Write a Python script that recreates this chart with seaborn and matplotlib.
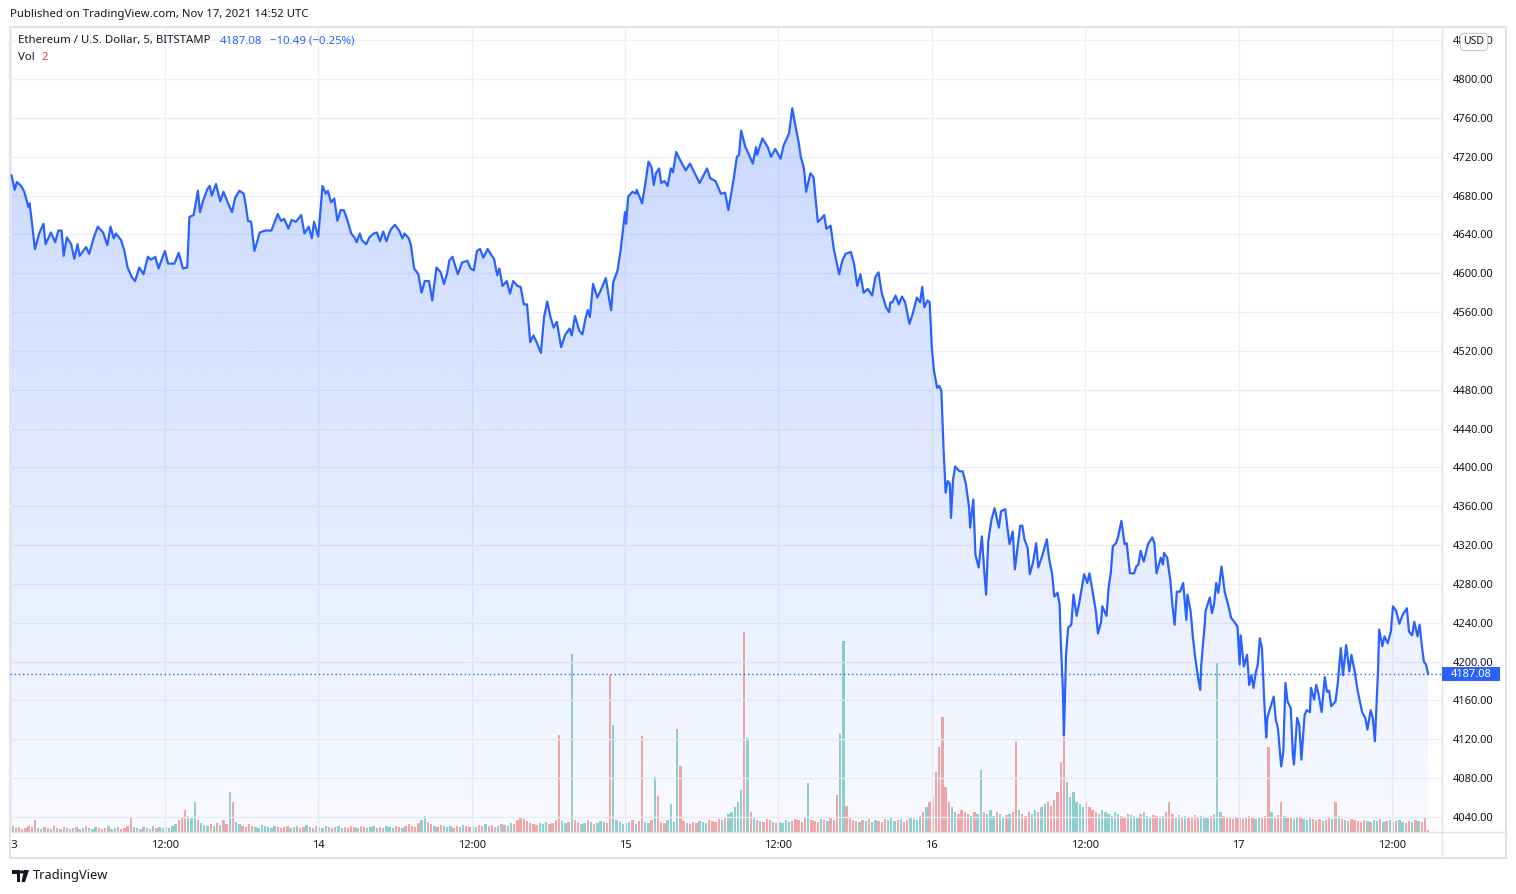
import numpy as np
import matplotlib
matplotlib.use("Agg")
import matplotlib.pyplot as plt
import seaborn as sns
from matplotlib.patches import Rectangle, Polygon, Circle
from matplotlib.lines import Line2D
from matplotlib.transforms import Bbox, TransformedBbox, blended_transform_factory

# ETH/USD, BITSTAMP, 5-minute bars counted from 2021-11-13 00:00 UTC
bar_idx = [
    0, 3, 5, 9, 12, 16, 17, 19, 22, 26, 30, 32, 37, 41, 44, 47, 49, 52, 56, 59,
    62, 64, 70, 73, 77, 81, 86, 90, 93, 96, 98, 103, 106, 109, 113, 116, 120, 124, 128, 131,
    135, 138, 144, 147, 153, 157, 161, 165, 167, 171, 175, 177, 180, 184, 186, 188, 192, 196, 199, 203,
    207, 210, 214, 218, 220, 222, 225, 228, 231, 233, 238, 244, 250, 253, 256, 260, 263, 267, 272, 275,
    279, 282, 284, 288, 292, 295, 297, 300, 303, 306, 309, 312, 315, 319, 322, 324, 327, 329, 333, 336,
    340, 343, 346, 349, 352, 356, 360, 364, 367, 369, 373, 375, 378, 382, 385, 388, 392, 395, 399, 403,
    406, 409, 411, 414, 419, 423, 428, 431, 434, 437, 440, 443, 447, 451, 453, 456, 458, 461, 465, 468,
    471, 475, 478, 481, 484, 487, 490, 493, 497, 500, 503, 506, 509, 512, 516, 520, 524, 526, 529, 533,
    536, 539, 541, 543, 546, 550, 553, 558, 561, 563, 565, 569, 572, 576, 577, 579, 583, 586, 587, 592,
    595, 598, 601, 603, 605, 608, 610, 613, 616, 619, 621, 624, 628, 633, 637, 641, 646, 653, 656, 661,
    666, 670, 673, 678, 681, 683, 685, 689, 692, 696, 699, 700, 705, 710, 713, 717, 722, 725, 730, 733,
    736, 739, 741, 744, 746, 750, 753, 757, 760, 763, 765, 769, 772, 777, 780, 783, 788, 791, 794, 797,
    800, 804, 808, 811, 814, 817, 821, 824, 825, 827, 830, 833, 836, 839, 843, 846, 850, 853, 855, 857,
    860, 862, 864, 866, 869, 871, 873, 875, 877, 879, 881, 882, 884, 886, 890, 893, 896, 899, 900, 903,
    905, 908, 911, 913, 915, 917, 920, 923, 925, 927, 929, 933, 935, 937, 940, 942, 945, 947, 949, 951,
    954, 956, 959, 962, 964, 968, 972, 974, 977, 979, 982, 984, 985, 987, 988, 989, 990, 992, 995, 997,
    1000, 1003, 1007, 1010, 1012, 1015, 1018, 1020, 1023, 1024, 1028, 1030, 1032, 1034, 1037, 1039, 1042, 1045, 1047, 1050,
    1054, 1056, 1058, 1060, 1063, 1067, 1071, 1073, 1075, 1079, 1081, 1082, 1085, 1088, 1090, 1092, 1094, 1097, 1100, 1103,
    1104, 1107, 1109, 1111, 1114, 1116, 1117, 1120, 1121, 1125, 1127, 1129, 1131, 1133, 1136, 1139, 1143, 1145, 1148, 1151,
    1153, 1154, 1157, 1160, 1162, 1164, 1166, 1168, 1170, 1172, 1174, 1176, 1178, 1179, 1183, 1185, 1187, 1189, 1192, 1194,
    1196, 1198, 1201, 1203, 1204, 1207, 1209, 1211, 1214, 1216, 1219, 1220, 1223, 1225, 1227, 1230, 1233, 1235, 1237, 1239,
    1243, 1245, 1248, 1250, 1253, 1256, 1258, 1261, 1264, 1268, 1271, 1273, 1276, 1278, 1280, 1283, 1284, 1287, 1289, 1292,
    1295, 1297, 1300, 1303, 1306, 1310, 1312, 1315, 1317, 1320, 1322, 1324, 1326, 1328, 1330,
]
close = [
    4701, 4686, 4694, 4690, 4684, 4668, 4672, 4654, 4625, 4641, 4651, 4630, 4642, 4632, 4644, 4644, 4618, 4637, 4630, 4615,
    4630, 4618, 4627, 4620, 4636, 4648, 4642, 4629, 4648, 4636, 4641, 4634, 4623, 4606, 4596, 4592, 4606, 4599, 4617, 4614,
    4617, 4605, 4623, 4610, 4610, 4621, 4605, 4606, 4658, 4660, 4685, 4663, 4675, 4687, 4690, 4680, 4692, 4674, 4684, 4673,
    4663, 4678, 4685, 4682, 4670, 4654, 4653, 4623, 4634, 4642, 4644, 4644, 4661, 4654, 4656, 4646, 4655, 4653, 4660, 4641,
    4648, 4636, 4653, 4638, 4690, 4682, 4685, 4673, 4677, 4654, 4665, 4665, 4656, 4641, 4637, 4632, 4641, 4634, 4630, 4637,
    4641, 4642, 4633, 4643, 4633, 4645, 4650, 4644, 4636, 4641, 4636, 4629, 4605, 4599, 4580, 4592, 4592, 4572, 4606, 4601,
    4589, 4600, 4613, 4617, 4599, 4611, 4613, 4605, 4603, 4623, 4625, 4616, 4625, 4618, 4615, 4598, 4605, 4587, 4592, 4579,
    4592, 4587, 4586, 4568, 4568, 4529, 4536, 4529, 4518, 4555, 4571, 4555, 4544, 4550, 4524, 4537, 4543, 4536, 4556, 4541,
    4537, 4554, 4562, 4555, 4589, 4575, 4582, 4595, 4574, 4562, 4591, 4603, 4625, 4663, 4651, 4679, 4684, 4682, 4686, 4672,
    4692, 4715, 4709, 4691, 4703, 4708, 4693, 4695, 4690, 4708, 4704, 4725, 4716, 4706, 4713, 4704, 4693, 4708, 4698, 4695,
    4682, 4683, 4665, 4697, 4720, 4722, 4747, 4730, 4723, 4713, 4730, 4722, 4739, 4730, 4720, 4728, 4718, 4732, 4744, 4770,
    4752, 4735, 4720, 4708, 4684, 4703, 4699, 4653, 4656, 4660, 4646, 4649, 4625, 4599, 4613, 4620, 4622, 4610, 4587, 4599,
    4580, 4584, 4577, 4596, 4601, 4580, 4565, 4560, 4570, 4570, 4577, 4568, 4576, 4570, 4548, 4558, 4575, 4570, 4586, 4565,
    4572, 4570, 4524, 4500, 4482, 4484, 4479, 4420, 4374, 4386, 4383, 4348, 4388, 4401, 4396, 4396, 4383, 4359, 4338, 4367,
    4310, 4297, 4329, 4297, 4269, 4324, 4346, 4358, 4348, 4338, 4355, 4357, 4338, 4321, 4334, 4295, 4322, 4340, 4340, 4326,
    4317, 4290, 4302, 4322, 4297, 4310, 4326, 4307, 4290, 4267, 4271, 4259, 4224, 4173, 4124, 4162, 4207, 4235, 4238, 4269,
    4247, 4264, 4290, 4281, 4291, 4272, 4252, 4229, 4241, 4257, 4247, 4276, 4291, 4319, 4322, 4329, 4345, 4321, 4322, 4291,
    4291, 4298, 4300, 4314, 4303, 4321, 4328, 4322, 4291, 4307, 4300, 4312, 4307, 4283, 4257, 4238, 4272, 4272, 4281, 4243,
    4269, 4252, 4227, 4207, 4183, 4171, 4197, 4235, 4252, 4266, 4250, 4259, 4281, 4271, 4298, 4272, 4255, 4245, 4241, 4236,
    4197, 4227, 4195, 4207, 4176, 4186, 4173, 4188, 4197, 4224, 4214, 4162, 4122, 4142, 4157, 4164, 4140, 4131, 4092, 4107,
    4178, 4159, 4152, 4104, 4094, 4142, 4135, 4099, 4145, 4150, 4148, 4173, 4161, 4176, 4167, 4148, 4184, 4169, 4170, 4154,
    4159, 4176, 4214, 4186, 4217, 4190, 4207, 4190, 4169, 4148, 4142, 4130, 4150, 4142, 4118, 4192, 4233, 4216, 4226, 4219,
    4231, 4257, 4252, 4239, 4248, 4255, 4231, 4227, 4241, 4226, 4238, 4217, 4200, 4197, 4187.08,
]

# volume in 15-minute buckets (ETH), one row = 6 hours
vol_15m = [
    60, 40, 50, 30, 40, 60, 50, 120, 40, 30, 50, 40, 30, 60, 40, 30, 50, 40, 30, 40, 50, 30, 40, 60,
    40, 30, 50, 40, 30, 40, 60, 30, 40, 50, 30, 40, 60, 150, 50, 40, 30, 50, 40, 30, 60, 40, 50, 40,
    50, 40, 60, 80, 120, 150, 220, 160, 140, 300, 120, 90, 70, 60, 80, 60, 90, 70, 120, 80, 400, 300, 100, 80,
    60, 50, 80, 60, 50, 40, 70, 60, 50, 40, 60, 50, 40, 50, 60, 40, 50, 60, 40, 50, 70, 50, 40, 60,
    50, 40, 60, 50, 40, 50, 60, 40, 50, 40, 60, 50, 40, 60, 50, 40, 50, 60, 40, 50, 40, 60, 50, 40,
    60, 50, 40, 60, 80, 60, 50, 90, 120, 160, 100, 80, 60, 50, 70, 60, 50, 60, 40, 60, 50, 70, 60, 50,
    60, 50, 70, 60, 80, 60, 70, 50, 60, 80, 70, 60, 90, 80, 120, 150, 130, 110, 90, 80, 70, 90, 80, 100,
    80, 90, 120, 970, 110, 90, 100, 1780, 120, 100, 80, 90, 120, 100, 80, 90, 110, 100, 90, 1570, 1070, 120, 100, 80,
    90, 100, 120, 80, 110, 960, 100, 90, 120, 550, 360, 100, 90, 120, 280, 100, 1030, 660, 110, 90, 80, 100, 90, 110,
    100, 90, 120, 110, 100, 130, 120, 150, 180, 200, 250, 300, 420, 2000, 940, 200, 150, 120, 110, 100, 130, 120, 100, 90,
    100, 90, 120, 100, 110, 130, 120, 100, 150, 490, 120, 110, 100, 130, 120, 110, 140, 120, 370, 980, 1910, 260, 150, 120,
    110, 100, 120, 110, 130, 100, 120, 110, 100, 130, 120, 140, 110, 120, 130, 100, 120, 150, 130, 120, 160, 200, 250, 300,
    350, 600, 850, 1150, 450, 300, 250, 200, 180, 220, 200, 180, 160, 200, 180, 620, 200, 180, 220, 160, 200, 180, 150, 170,
    180, 200, 900, 220, 180, 160, 200, 180, 220, 200, 250, 280, 300, 260, 320, 400, 700, 950, 500, 350, 400, 300, 280, 250,
    300, 250, 220, 200, 180, 220, 200, 180, 160, 200, 180, 160, 150, 180, 170, 160, 150, 180, 200, 160, 150, 170, 160, 150,
    160, 200, 300, 180, 150, 170, 140, 160, 150, 140, 170, 150, 160, 140, 150, 160, 180, 1700, 200, 160, 140, 150, 130, 140,
    150, 130, 140, 160, 150, 130, 150, 140, 160, 850, 200, 150, 170, 300, 160, 140, 150, 130, 140, 150, 130, 120, 140, 130,
    120, 130, 110, 120, 140, 130, 300, 160, 130, 120, 110, 130, 120, 110, 100, 120, 110, 100, 120, 110, 130, 100, 110, 120,
    100, 110, 120, 100, 90, 110, 100, 120, 110, 100, 150, 20,
]
# buckets whose colour is known from the picture
red_slots = [7, 37, 54, 69, 171, 187, 197, 202, 209, 229, 258, 261, 290, 291, 314, 328, 329, 362, 393, 397, 414]
green_slots = [57, 68, 175, 188, 201, 206, 208, 228, 230, 249, 259, 260, 303, 330, 377]

tick_bars = [0, 144, 288, 432, 576, 720, 864, 1008, 1152, 1296]
tick_labels = ["13", "12:00", "14", "12:00", "15", "12:00", "16", "12:00", "17", "12:00"]
price_ticks = list(range(4040, 4841, 40))
last_price = 4187.08

W, H = 1516, 894
BLUE = "#2962ff"
TXT = "#131722"
GRID = "#eef0f5"
BORDER = "#e0e3eb"


def fx(px):
    return px / W


def fy(py):
    return 1 - py / H


sns.set_style("white")
plt.rcParams["font.family"] = ["Noto Sans", "DejaVu Sans"]

fig = plt.figure(figsize=(W / 100, H / 100), dpi=100)
rect = [fx(10), fy(832), fx(1442) - fx(10), fy(27) - fy(832)]
ax_vol = fig.add_axes(rect, zorder=1)
ax = fig.add_axes(rect, zorder=2)
ax.patch.set_visible(False)

xlo, xhi = -1.4, 1343
ylo, yhi = 4024.5, 4853.7

# volume histogram behind the price
slot_x = np.arange(len(vol_15m)) * 3 + 1
p_start = np.interp(slot_x - 1, bar_idx, close)
p_end = np.interp(slot_x + 2, bar_idx, close)
up = p_end >= p_start
up[red_slots] = False
up[green_slots] = True
cols = np.where(up, "#26a69a", "#ef5350")
ax_vol.bar(slot_x, vol_15m, width=2.2, color=cols, alpha=0.5, linewidth=0)
ax_vol.set_xlim(xlo, xhi)
ax_vol.set_ylim(0, 8050)
ax_vol.set_axis_off()

# grid
for p in price_ticks:
    ax.axhline(p, color=GRID, lw=1, zorder=0)
for b in tick_bars:
    ax.axvline(b, color=GRID, lw=1, zorder=0)

# gradient area under the line
n = 256
grad = np.zeros((n, 1, 4))
grad[..., 0] = 41 / 255
grad[..., 1] = 98 / 255
grad[..., 2] = 1.0
grad[..., 3] = np.linspace(0.03, 0.27, n)[:, None]
im = ax.imshow(grad, extent=[xlo, xhi, ylo, yhi], origin="lower", aspect="auto",
               interpolation="bilinear", zorder=1)
area = ax.fill_between(bar_idx, close, ylo, facecolor="none", edgecolor="none")
im.set_clip_path(area.get_paths()[0], transform=ax.transData)

sns.lineplot(x=bar_idx, y=close, ax=ax, color=BLUE, linewidth=1.6, estimator=None,
             sort=False, zorder=3)
ax.axhline(last_price, color=BLUE, lw=1, ls=(0, (1, 2)), zorder=2.5)

ax.set_xlim(xlo, xhi)
ax.set_ylim(ylo, yhi)
for s in ax.spines.values():
    s.set_visible(False)

ax.yaxis.tick_right()
ax.set_yticks(price_ticks, [f"{p:.2f}" for p in price_ticks])
ax.set_xticks(tick_bars, tick_labels)
ax.tick_params(axis="y", length=0, pad=7.5, labelsize=8, colors=TXT)
ax.tick_params(axis="x", length=0, pad=6, labelsize=8, colors=TXT)
ax.set_xlabel("")
ax.set_ylabel("")

clip = TransformedBbox(Bbox.from_extents(fx(10), 0, fx(1442), 1), fig.transFigure)
for t in ax.xaxis.get_major_ticks():
    t.label1.set_clip_box(clip)
    t.label1.set_clip_on(True)

# last price tag on the scale
bt = blended_transform_factory(ax.transAxes, ax.transData)
ax.add_patch(Rectangle((1.0, last_price - 7.4), (1500 - 1442) / (1442 - 10), 14.8,
                       transform=bt, facecolor=BLUE, edgecolor="none", clip_on=False, zorder=5))
ax.text(1.0 + (1471 - 1442) / (1442 - 10), last_price, f"{last_price:.2f}", transform=bt,
        ha="center", va="center", color="white", fontsize=8, zorder=6, clip_on=False)

# frame and scale separators
fig.add_artist(Rectangle((fx(10), fy(858)), fx(1506) - fx(10), fy(27) - fy(858),
                         transform=fig.transFigure, fill=False, edgecolor=BORDER, lw=1.5))
fig.add_artist(Line2D([fx(1442), fx(1442)], [fy(27), fy(858)], color=BORDER, lw=1))
fig.add_artist(Line2D([fx(10), fx(1506)], [fy(832), fy(832)], color=BORDER, lw=1))

# currency badge (sits over the top price label, as on the original)
fig.text(fx(1474), fy(42), "USD", ha="center", va="center", fontsize=7.5, color=TXT, zorder=10,
         bbox=dict(boxstyle="round,pad=0.3,rounding_size=0.4", fc="white", ec="#c8cad0", lw=0.8))

# header / legend texts
fig.text(fx(10), fy(14), "Published on TradingView.com, Nov 17, 2021 14:52 UTC",
         ha="left", va="center", fontsize=8.2, color=TXT)
fig.text(fx(18), fy(41), "Ethereum / U.S. Dollar, 5, BITSTAMP", ha="left", va="center",
         fontsize=8.2, color=TXT)
fig.text(fx(220), fy(41), "4187.08", ha="left", va="center", fontsize=8.2, color=BLUE)
fig.text(fx(270), fy(41), "\u221210.49 (\u22120.25%)", ha="left", va="center", fontsize=8.2, color=BLUE)
fig.text(fx(18), fy(58), "Vol", ha="left", va="center", fontsize=8.2, color=TXT)
fig.text(fx(41), fy(58), "2", ha="left", va="center", fontsize=8.2, color="#f23645")

# footer logo + name
logo = [
    Polygon([(fx(12), fy(870)), (fx(20), fy(870)), (fx(20), fy(882)), (fx(16.5), fy(882)),
             (fx(16.5), fy(874)), (fx(12), fy(874))], closed=True),
    Polygon([(fx(24), fy(870)), (fx(29), fy(870)), (fx(25), fy(882)), (fx(21.5), fy(882))], closed=True),
]
for pg in logo:
    pg.set_transform(fig.transFigure)
    pg.set_facecolor(TXT)
    pg.set_edgecolor("none")
    fig.add_artist(pg)
fig.add_artist(Circle((fx(22), fy(872)), 1.6 / W, transform=fig.transFigure, color=TXT))
fig.text(fx(33), fy(876), "TradingView", ha="left", va="center", fontsize=9.2, color=TXT)

fig.savefig("out.png", dpi=100)
